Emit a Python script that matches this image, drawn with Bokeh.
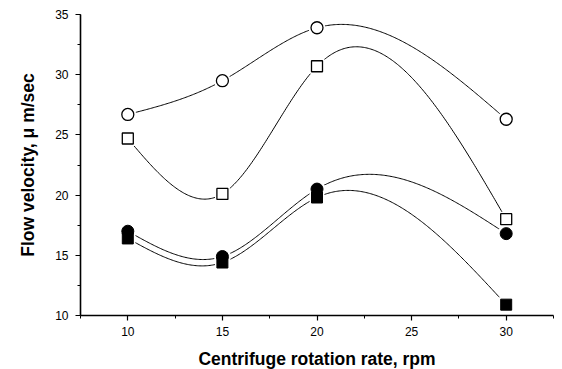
import numpy as np
from bokeh.plotting import figure
from bokeh.models import SingleIntervalTicker, Range1d
from bokeh.embed import file_html
from bokeh.resources import INLINE

rpm = [10, 15, 20, 30]
open_circle = [26.7, 29.5, 33.9, 26.3]
open_square = [24.7, 20.1, 30.7, 18.0]
filled_circle = [17.0, 14.9, 20.5, 16.8]
filled_square = [16.4, 14.4, 19.8, 10.9]

x_ticks = [10, 15, 20, 25, 30]
y_ticks = [10, 15, 20, 25, 30, 35]


def natural_spline(x, y, n=300):
    x = np.asarray(x, float)
    y = np.asarray(y, float)
    k = len(x)
    h = np.diff(x)
    A = np.zeros((k, k))
    b = np.zeros(k)
    A[0, 0] = 1
    A[-1, -1] = 1
    for i in range(1, k - 1):
        A[i, i - 1] = h[i - 1]
        A[i, i] = 2 * (h[i - 1] + h[i])
        A[i, i + 1] = h[i]
        b[i] = 6 * ((y[i + 1] - y[i]) / h[i] - (y[i] - y[i - 1]) / h[i - 1])
    M = np.linalg.solve(A, b)
    xs = np.linspace(x[0], x[-1], n)
    ys = np.empty_like(xs)
    for j, xv in enumerate(xs):
        i = min(np.searchsorted(x, xv, side="right") - 1, k - 2)
        hi = h[i]
        a = x[i + 1] - xv
        c = xv - x[i]
        ys[j] = (M[i] * a ** 3 / (6 * hi) + M[i + 1] * c ** 3 / (6 * hi)
                 + (y[i] - M[i] * hi ** 2 / 6) * a / hi
                 + (y[i + 1] - M[i + 1] * hi ** 2 / 6) * c / hi)
    return xs, ys


p = figure(width=561, height=367, output_backend="svg", toolbar_location=None,
           x_range=Range1d(7.5, 32.5), y_range=Range1d(10, 35),
           min_border_left=80, min_border_right=8, min_border_top=14,
           min_border_bottom=52)
p.frame_width = 473
p.frame_height = 301
p.outline_line_color = None
p.xgrid.visible = False
p.ygrid.visible = False
p.background_fill_color = "white"
p.border_fill_color = "white"

for series in (open_circle, open_square, filled_circle, filled_square):
    xs, ys = natural_spline(rpm, series)
    p.line(xs, ys, line_color="black", line_width=1)

# white halos to leave small gaps where the curves meet markers
p.scatter(rpm, open_circle, marker="circle", size=17, fill_color="white", line_color=None)
p.scatter(rpm, filled_circle, marker="circle", size=17, fill_color="white", line_color=None)
p.scatter(rpm, open_square, marker="square", size=15, fill_color="white", line_color=None)
p.scatter(rpm, filled_square, marker="square", size=15, fill_color="white", line_color=None)

p.scatter(rpm, open_circle, marker="circle", size=12, fill_color="white",
          line_color="black", line_width=1.3)
p.scatter(rpm, open_square, marker="square", size=11, fill_color="white",
          line_color="black", line_width=1.3)
p.scatter(rpm, filled_circle, marker="circle", size=12, fill_color="black",
          line_color="black")
p.scatter(rpm, filled_square, marker="square", size=11, fill_color="black",
          line_color="black")

xt = SingleIntervalTicker(interval=5, num_minor_ticks=2)
yt = SingleIntervalTicker(interval=5, num_minor_ticks=2)
p.xaxis.ticker = xt
p.yaxis.ticker = yt

for ax in (p.xaxis[0], p.yaxis[0]):
    ax.axis_line_width = 1.6
    ax.axis_line_color = "black"
    ax.major_tick_line_color = "black"
    ax.minor_tick_line_color = "black"
    ax.major_tick_line_width = 1.2
    ax.minor_tick_line_width = 1.0
    ax.major_tick_in = 0
    ax.major_tick_out = 5
    ax.minor_tick_in = 0
    ax.minor_tick_out = 3
    ax.major_label_text_font = "Liberation Sans"
    ax.major_label_text_font_size = "12px"
    ax.major_label_text_color = "black"
    ax.axis_label_text_font = "Liberation Sans"
    ax.axis_label_text_font_style = "bold"
    ax.axis_label_text_font_size = "17.5px"
    ax.axis_label_text_color = "black"

p.xaxis.axis_label = "Centrifuge rotation rate, rpm"
p.yaxis.axis_label = "Flow velocity, \u03bc m/sec"
p.xaxis.major_label_standoff = 6
p.xaxis.axis_label_standoff = 10
p.yaxis.major_label_standoff = 7
p.yaxis.axis_label_standoff = 14

open("out.html", "w").write(file_html(p, INLINE))
